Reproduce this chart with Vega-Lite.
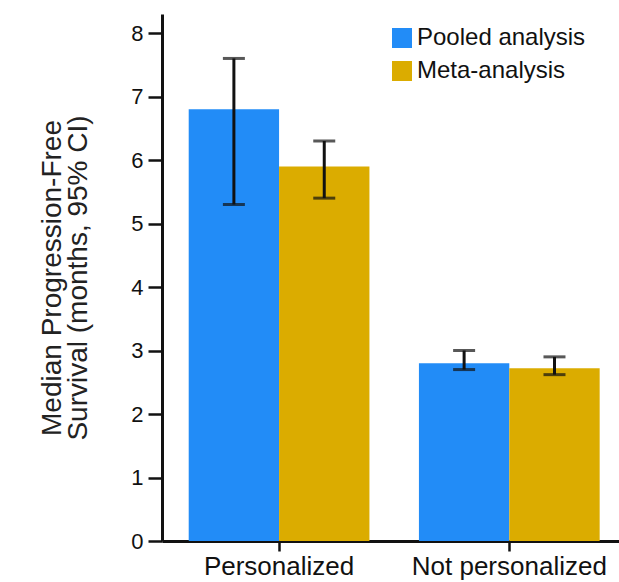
{
  "$schema": "https://vega.github.io/schema/vega-lite/v6.json",
  "width": 457,
  "height": 527,
  "autosize": {"type": "none"},
  "padding": {"left": 162, "top": 14, "right": 0, "bottom": 41},
  "background": "white",
  "config": {
    "view": {"stroke": null},
    "font": "Liberation Sans"
  },
  "data": {
    "values": [
      {"group": "Personalized", "series": "Pooled analysis", "value": 6.8, "lo": 5.3, "hi": 7.6},
      {"group": "Personalized", "series": "Meta-analysis", "value": 5.9, "lo": 5.4, "hi": 6.3},
      {"group": "Not personalized", "series": "Pooled analysis", "value": 2.8, "lo": 2.7, "hi": 3.0},
      {"group": "Not personalized", "series": "Meta-analysis", "value": 2.72, "lo": 2.62, "hi": 2.9}
    ]
  },
  "encoding": {
    "x": {
      "field": "group",
      "type": "nominal",
      "sort": ["Personalized", "Not personalized"],
      "scale": {"paddingInner": 0.215, "paddingOuter": 0.1, "align": 0.58},
      "axis": {
        "title": null,
        "labelAngle": 0,
        "labelFontSize": 26,
        "labelLimit": 0,
        "labelColor": "#111",
        "labelPadding": 2,
        "domainColor": "#111",
        "domainWidth": 3,
        "tickColor": "#111",
        "tickWidth": 2.5,
        "tickSize": 10
      }
    },
    "xOffset": {
      "field": "series",
      "type": "nominal",
      "sort": ["Pooled analysis", "Meta-analysis"],
      "scale": {"paddingInner": 0, "paddingOuter": 0}
    }
  },
  "layer": [
    {
      "mark": {"type": "bar"},
      "encoding": {
        "y": {
          "field": "value",
          "type": "quantitative",
          "scale": {"domain": [0, 8.3], "nice": false},
          "axis": {
            "values": [0, 1, 2, 3, 4, 5, 6, 7, 8],
            "format": "d",
            "grid": false,
            "title": ["Median Progression-Free", "Survival (months, 95% CI)"],
            "titleFontSize": 28,
            "titleFontWeight": "normal",
            "titleColor": "#222",
            "titleLineHeight": 26,
            "titlePadding": 38,
            "labelFontSize": 22,
            "labelColor": "#111",
            "labelPadding": 5,
            "domainColor": "#111",
            "domainWidth": 3,
            "tickColor": "#111",
            "tickWidth": 2.5,
            "tickSize": 14
          }
        },
        "color": {
          "field": "series",
          "type": "nominal",
          "sort": ["Pooled analysis", "Meta-analysis"],
          "scale": {"domain": ["Pooled analysis", "Meta-analysis"], "range": ["#228cf7", "#dbac00"]},
          "legend": {
            "title": null,
            "orient": "none",
            "legendX": 228,
            "legendY": 12,
            "symbolType": "square",
            "symbolSize": 400,
            "symbolStrokeWidth": 0,
            "symbolOpacity": 1,
            "labelFontSize": 24,
            "labelLimit": 0,
            "labelColor": "#111",
            "labelOffset": 3,
            "rowPadding": 9
          }
        }
      }
    },
    {
      "mark": {"type": "rule", "color": "#111", "strokeWidth": 3},
      "encoding": {
        "y": {"field": "lo", "type": "quantitative"},
        "y2": {"field": "hi"}
      }
    },
    {
      "mark": {"type": "tick", "color": "#111", "thickness": 3, "size": 22},
      "encoding": {
        "y": {"field": "lo", "type": "quantitative"}
      }
    },
    {
      "mark": {"type": "tick", "color": "#111", "thickness": 3, "size": 22},
      "encoding": {
        "y": {"field": "hi", "type": "quantitative"}
      }
    }
  ]
}
